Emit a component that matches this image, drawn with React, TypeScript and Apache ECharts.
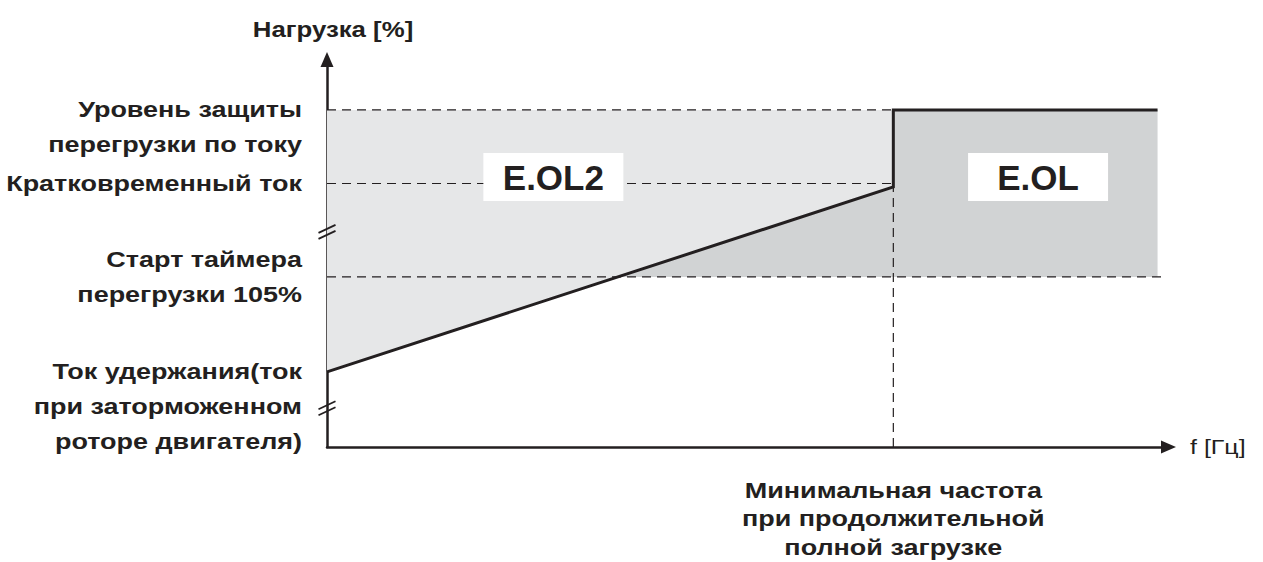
import React, { useEffect, useRef } from "react";
import * as echarts from "echarts";

// ---------- data (schematic units, 0..100 on both axes) ----------
const xMax = 100;
const yMax = 100;
const minFreq = 67.3; // минимальная частота при продолжительной полной загрузке
const zoneEnd = 98.7; // end of the E.OL zone
const dashEnd = 99.2; // end of the 105 % dashed guide
const levelValues = [87, 68, 43.9, 19.4]; // overcurrent, short-time, timer start, holding
const levelLabels = [
  ["Уровень защиты", "перегрузки по току"],
  ["Кратковременный ток"],
  ["Старт таймера", "перегрузки 105%"],
  ["Ток удержания(ток", "при заторможенном", "роторе двигателя)"],
];
const levelAnchorLine = [0, 0, 0.5, 0];
const curveEndY = 67.1; // load limit reached at minFreq
const breakMarksY = [55.5, 10];
const zoneNames = ["E.OL2", "E.OL"];
const zoneCenterX = [26.9, 84.5];
const zoneCenterY = [69.7, 69.7];
const yAxisTitle = "Нагрузка [%]";
const xAxisTitle = "f [Гц]";
const freqLabel = ["Минимальная частота", "при продолжительной", "полной загрузке"];

// ---------- derived geometry ----------
const [overcurrent, shortTime, timerStart, holding] = levelValues;
const curveX = [0, minFreq, minFreq, zoneEnd];
const curveY = [holding, curveEndY, overcurrent, overcurrent];
const crossX = ((timerStart - holding) / (curveEndY - holding)) * minFreq;
const lightPoly = [
  [0, overcurrent],
  [minFreq, overcurrent],
  [minFreq, curveEndY],
  [0, holding],
];
const darkPoly = [
  [crossX, timerStart],
  [minFreq, curveEndY],
  [minFreq, overcurrent],
  [zoneEnd, overcurrent],
  [zoneEnd, timerStart],
];
const dashedSegments = [
  [[0, overcurrent], [minFreq, overcurrent]],
  [[0, shortTime], [minFreq, shortTime]],
  [[0, timerStart], [dashEnd, timerStart]],
  [[minFreq, 0], [minFreq, curveEndY]],
];

const INK = "#231f20";
const FONT = '"Liberation Sans", Arial, Helvetica, sans-serif';
const LIGHT = "#e6e7e8";
const DARK = "#d1d3d4";
const SX = 1.255; // horizontal stretch of the label lettering
const LABEL_FONT = `bold 21.5px ${FONT}`;

export default function App() {
  const ref = useRef<HTMLDivElement>(null);

  useEffect(() => {
    document.body.style.margin = "0";
    const chart = echarts.init(ref.current!, null, { renderer: "svg" });

    const polySeries = (pts: number[][], fill: string, z: number) => ({
      type: "custom",
      z,
      silent: true,
      data: [[0, 0]],
      renderItem: (_p: any, api: any) => ({
        type: "polygon",
        shape: { points: pts.map((p) => api.coord(p)) },
        style: { fill },
      }),
    });

    const labelLH = 35;
    const option: any = {
      animation: false,
      grid: { left: 327, right: 94.5, top: 59.5, bottom: 115 },
      xAxis: {
        type: "value",
        min: 0,
        max: xMax,
        axisLine: {
          show: true,
          symbol: ["none", "triangle"],
          symbolSize: [13, 15],
          lineStyle: { color: INK, width: 2.5 },
        },
        axisTick: { show: false },
        axisLabel: { show: false },
        splitLine: { show: false },
      },
      yAxis: {
        type: "value",
        min: 0,
        max: yMax,
        axisLine: {
          show: true,
          symbol: ["none", "triangle"],
          symbolSize: [13, 15],
          lineStyle: { color: INK, width: 2.5 },
        },
        axisTick: { show: false },
        axisLabel: { show: false },
        splitLine: { show: false },
      },
      series: [
        polySeries(lightPoly, LIGHT, 1),
        polySeries(darkPoly, DARK, 2),
        ...dashedSegments.map((seg) => ({
          type: "line",
          z: 3,
          silent: true,
          symbol: "none",
          data: seg,
          lineStyle: { color: INK, width: 1.2, type: [9, 6] },
        })),
        {
          type: "line",
          z: 4,
          silent: true,
          symbol: "none",
          data: curveX.map((x, i) => [x, curveY[i]]),
          lineStyle: { color: INK, width: 3, join: "miter" },
        },
        // axis break marks
        {
          type: "custom",
          z: 5,
          silent: true,
          data: breakMarksY.map((y) => [0, y]),
          renderItem: (_p: any, api: any) => {
            const [cx, cy] = api.coord([api.value(0), api.value(1)]);
            const mk = (oy: number) => ({
              type: "line",
              shape: { x1: cx - 8.5, y1: cy + oy + 4, x2: cx + 8.5, y2: cy + oy - 4 },
              style: { stroke: INK, lineWidth: 1.8 },
            });
            return { type: "group", children: [mk(-3), mk(3)] };
          },
        },
        // zone boxes
        {
          type: "custom",
          z: 6,
          silent: true,
          data: zoneNames.map((_, i) => [zoneCenterX[i], zoneCenterY[i], i]),
          renderItem: (_p: any, api: any) => {
            const [cx, cy] = api.coord([api.value(0), api.value(1)]);
            const name = zoneNames[api.value(2)];
            return {
              type: "group",
              children: [
                {
                  type: "rect",
                  shape: { x: cx - 70, y: cy - 24, width: 140, height: 48 },
                  style: { fill: "#ffffff" },
                },
                {
                  type: "text",
                  x: cx,
                  y: cy + 1,
                  style: {
                    text: name,
                    fill: INK,
                    font: `bold 35px ${FONT}`,
                    align: "center",
                    verticalAlign: "middle",
                  },
                },
              ],
            };
          },
        },
        // level labels
        {
          type: "custom",
          z: 6,
          silent: true,
          data: levelValues.map((v, i) => [0, v, i]),
          renderItem: (_p: any, api: any) => {
            const i = api.value(2);
            const [cx, cy] = api.coord([0, api.value(1)]);
            return {
              type: "text",
              x: cx - 25,
              y: cy - labelLH / 2 - levelAnchorLine[i] * labelLH,
              scaleX: SX,
              style: {
                text: levelLabels[i].join("\n"),
                fill: INK,
                font: LABEL_FONT,
                lineHeight: labelLH,
                align: "right",
                verticalAlign: "top",
              },
            };
          },
        },
        // axis titles and frequency label
        {
          type: "custom",
          z: 6,
          silent: true,
          data: [[0, 0]],
          renderItem: (_p: any, api: any) => {
            const top = api.coord([0, yMax]);
            const right = api.coord([xMax, 0]);
            const fm = api.coord([minFreq, 0]);
            return {
              type: "group",
              children: [
                {
                  type: "text",
                  x: top[0] + 6,
                  y: top[1] - 29.5,
                  scaleX: 1.2,
                  style: {
                    text: yAxisTitle,
                    fill: INK,
                    font: LABEL_FONT,
                    align: "center",
                    verticalAlign: "middle",
                  },
                },
                {
                  type: "text",
                  x: right[0] + 21.5,
                  y: right[1],
                  scaleX: 1.25,
                  style: {
                    text: xAxisTitle,
                    fill: INK,
                    font: `20px ${FONT}`,
                    align: "left",
                    verticalAlign: "middle",
                  },
                },
                {
                  type: "text",
                  x: fm[0],
                  y: fm[1] + 29,
                  scaleX: SX,
                  style: {
                    text: freqLabel.join("\n"),
                    fill: INK,
                    font: LABEL_FONT,
                    lineHeight: 28.5,
                    align: "center",
                    verticalAlign: "top",
                  },
                },
              ],
            };
          },
        },
      ],
    };

    chart.setOption(option);
    return () => chart.dispose();
  }, []);

  return <div ref={ref} style={{ width: 1263, height: 562 }} />;
}
